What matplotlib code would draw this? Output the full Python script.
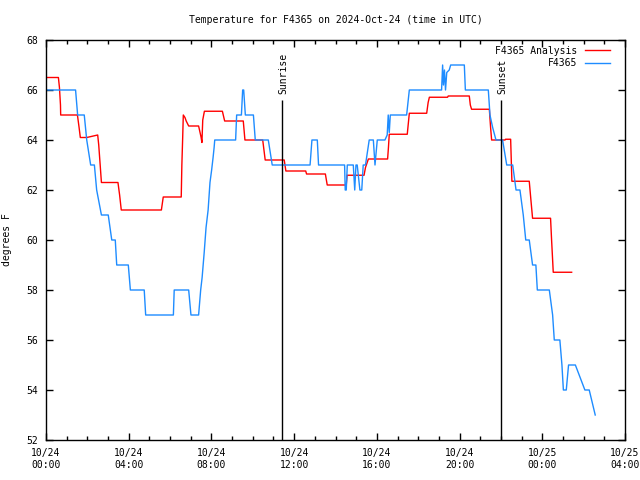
import matplotlib
matplotlib.use("Agg")
import matplotlib.pyplot as plt
from matplotlib.ticker import MultipleLocator

# hours since 2024-10-24 00:00 UTC
obs_hours = [0.0, 1.43, 1.53, 1.85, 1.97, 2.16, 2.34, 2.45, 2.68, 3.01, 3.18, 3.35, 3.42, 3.98,
             4.08, 4.75, 4.82, 6.16, 6.20, 6.90, 7.01, 7.38, 7.48, 7.55, 7.65, 7.74, 7.84, 7.93,
             8.01, 8.08, 8.13, 8.16, 9.17, 9.22, 9.45, 9.51, 9.56, 9.64, 10.03, 10.12, 10.75,
             10.94, 12.77, 12.86, 13.12, 13.18, 14.44, 14.47, 14.52, 14.57, 14.86, 14.93, 14.99,
             15.05, 15.18, 15.27, 15.34, 15.45, 15.63, 15.83, 15.91, 16.02, 16.39, 16.50, 16.55,
             16.60, 16.65, 17.44, 17.57, 19.13, 19.18, 19.22, 19.27, 19.32, 19.38, 19.50, 19.57,
             20.23, 20.28, 21.39, 21.47, 21.60, 21.76, 22.08, 22.28, 22.57, 22.73, 22.92, 23.08,
             23.20, 23.37, 23.53, 23.69, 23.76, 24.34, 24.50, 24.58, 24.85, 24.95, 25.02, 25.16,
             25.27, 25.60, 26.06, 26.27, 26.56]
obs_temp = [66, 66, 65, 65, 64, 63, 63, 62, 61, 61, 60, 60, 59, 59,
            58, 58, 57, 57, 58, 58, 57, 57, 58, 58.5, 59.5, 60.5, 61.2, 62.3,
            62.8, 63.3, 63.7, 64, 64, 65, 65, 66, 66, 65, 65, 64, 64,
            63, 63, 64, 64, 63, 63, 62, 62, 63, 63, 62, 63,
            63, 62, 62, 63, 63, 64, 64, 63, 64, 64, 64.2, 65,
            64.3, 65, 65, 66, 66, 67, 66.2, 66.8, 66.0, 66.7, 66.8, 67,
            67, 66, 66, 65, 64.5, 64, 64, 63, 63, 62, 62, 61,
            60, 60, 59, 59, 58, 58, 57, 56, 56, 55, 54, 54,
            55, 55, 54, 54, 53]

ana_hours = [0.05, 0.60, 0.65, 0.70, 0.71, 1.52, 1.60, 1.66, 1.97, 2.50, 2.55, 2.62, 2.68, 3.48,
             3.56, 3.64, 5.58, 5.67, 6.54, 6.57, 6.61, 6.64, 6.72, 6.78, 6.90, 7.38, 7.45, 7.50,
             7.54, 7.58, 7.66, 8.53, 8.60, 8.64, 9.54, 9.62, 10.48, 10.54, 10.60, 11.52, 11.60,
             12.56, 12.60, 13.51, 13.60, 14.52, 14.56, 15.38, 15.45, 15.59, 16.52, 16.56, 16.60,
             17.47, 17.57, 18.41, 18.48, 18.54, 19.42, 19.45, 20.47, 20.52, 20.58, 21.44, 21.50,
             21.55, 22.20, 22.22, 22.47, 22.50, 22.53, 23.37, 23.45, 23.53, 24.40, 24.45, 24.50,
             24.53, 25.42]
ana_temp = [66.5, 66.5, 66.1, 65.4, 65.0, 65.0, 64.5, 64.1, 64.1, 64.2, 63.8, 63.0, 62.3, 62.3,
            61.8, 61.2, 61.2, 61.72, 61.72, 63.0, 64.1, 65.0, 64.9, 64.76, 64.56, 64.56, 64.3, 64.11,
            63.9, 64.8, 65.15, 65.15, 64.9, 64.76, 64.76, 64.0, 64.0, 63.6, 63.2, 63.2, 62.76,
            62.76, 62.64, 62.64, 62.2, 62.2, 62.59, 62.59, 62.9, 63.24, 63.24, 63.7, 64.23,
            64.23, 65.07, 65.07, 65.5, 65.71, 65.71, 65.76, 65.76, 65.4, 65.23, 65.23, 64.5,
            64.0, 64.0, 64.03, 64.03, 63.2, 62.35, 62.35, 61.6, 60.87, 60.87, 60.0, 59.2,
            58.71, 58.71]

sun_hours = [11.41, 22.0]
sun_labels = ["Sunrise", "Sunset"]

tick_hours = [0, 4, 8, 12, 16, 20, 24, 28]
tick_labels = ["10/24\n00:00", "10/24\n04:00", "10/24\n08:00", "10/24\n12:00",
               "10/24\n16:00", "10/24\n20:00", "10/25\n00:00", "10/25\n04:00"]

plt.rcParams['font.family'] = ['DejaVu Sans Mono']
plt.rcParams['font.size'] = 7

fig = plt.figure(figsize=(6.4, 4.8), dpi=100)
ax = fig.add_axes([46 / 640, 40 / 480, 579 / 640, 400 / 480])

ax.plot(ana_hours, ana_temp, color='#ff0000', lw=1.0, label='F4365 Analysis')
ax.plot(obs_hours, obs_temp, color='#1e8cff', lw=1.0, label='F4365')

for h, lab in zip(sun_hours, sun_labels):
    ax.vlines(h, 52, 65.6, color='black', lw=1.0)
    ax.text(h + 0.08, 65.85, lab, rotation=90, ha='center', va='bottom')

ax.set_xlim(0, 28)
ax.set_ylim(52, 68)
ax.set_xticks(tick_hours)
ax.set_xticklabels(tick_labels)
ax.xaxis.set_minor_locator(MultipleLocator(1))
ax.set_yticks(range(52, 69, 2))
ax.tick_params(which='major', direction='in', length=5, width=1, top=True, right=True, pad=6)
ax.tick_params(which='minor', direction='in', length=3, width=1, top=True)
for s in ax.spines.values():
    s.set_linewidth(1.0)

ax.set_title('Temperature for F4365 on 2024-Oct-24 (time in UTC)', fontsize=7, pad=12)
ax.set_ylabel('degrees F', labelpad=10)

ax.legend(loc='upper right', bbox_to_anchor=(0.985, 1.0), frameon=False, markerfirst=False,
          handlelength=2.6, handletextpad=0.8, labelspacing=0.25, borderaxespad=0.2)

plt.savefig('out.png', dpi=100)
